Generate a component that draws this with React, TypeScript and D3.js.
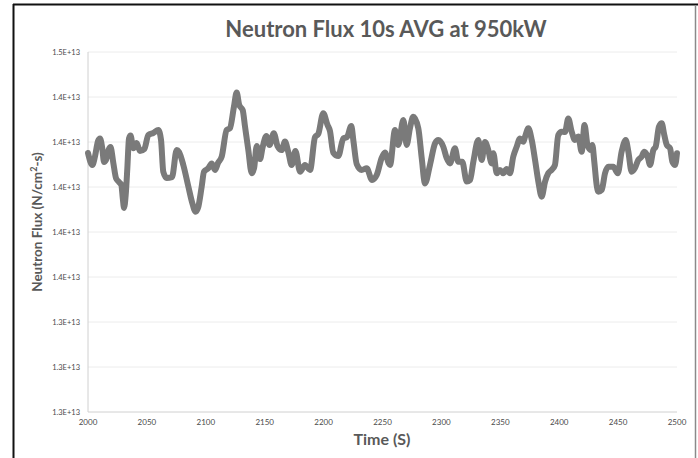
// Neutron flux 10 s average at 950 kW — dense scatter rendered as a thick trace.
import * as d3 from "d3";

// time (s) and flux (×1E13 N/cm²-s)
const times = [
  2000, 2003.7, 2005.9, 2008.5, 2010.2, 2012.1, 2013.6, 2015.3, 2017.4, 2019.1,
  2021.5, 2023.8, 2026.3, 2028.3, 2029.5, 2030.6, 2032, 2033.4, 2034.8, 2036.1,
  2038.5, 2041.3, 2044.1, 2047.8, 2051.2, 2055.4, 2059.7, 2062, 2063.9, 2066.8,
  2071.3, 2075.3, 2077.2, 2080.9, 2085.1, 2088.3, 2091.3, 2093.4, 2096.5, 2098.5,
  2102.1, 2105, 2107.8, 2110.4, 2113.5, 2117.7, 2120.5, 2123.9, 2126.2, 2128.4,
  2131.3, 2133.3, 2136.1, 2139, 2141, 2143.2, 2146, 2148.3, 2151.4, 2154.1,
  2157.7, 2160.9, 2164.4, 2167.2, 2170, 2172.9, 2176.1, 2180, 2184.2, 2188.5,
  2192.7, 2195.5, 2199.7, 2203.3, 2205.4, 2208.2, 2212.5, 2216.7, 2219.9, 2223.5,
  2225.4, 2228.1, 2232.3, 2236.6, 2241.1, 2245.1, 2249.3, 2252.1, 2255.1, 2256.4,
  2260.6, 2263.4, 2267.7, 2270.5, 2273.3, 2276.1, 2280.4, 2283.3, 2286.1, 2290.3,
  2294.6, 2297.4, 2301.6, 2304.5, 2307.3, 2311.5, 2314.3, 2317.7, 2321.5, 2324.3,
  2327.1, 2331.3, 2334.2, 2337, 2339.8, 2342.7, 2344.1, 2347, 2349.7, 2352.5,
  2355.4, 2358.2, 2361, 2363.9, 2366.7, 2369.5, 2371.2, 2373.8, 2376.7, 2379.5,
  2382.3, 2385.1, 2388, 2390.7, 2393.6, 2396.4, 2399.2, 2402.1, 2404.9, 2407.7,
  2410.6, 2413.4, 2416.2, 2419.1, 2421.5, 2424, 2427, 2428.1, 2429.8, 2431.8,
  2433.2, 2436.1, 2438.9, 2441.7, 2445.9, 2449.7, 2453, 2456.5, 2458.7, 2461.5,
  2464.3, 2467.1, 2470, 2472.2, 2475.1, 2477.1, 2479.9, 2481.9, 2484.7, 2487,
  2489.2, 2491.3, 2494.1, 2496.1, 2498.4, 2500,
];
const fluxE13 = [
  1.4151, 1.4098, 1.4135, 1.4204, 1.4216, 1.4172, 1.4111, 1.412, 1.4164, 1.4178,
  1.4107, 1.4039, 1.4022, 1.4009, 1.3951, 1.3907, 1.3964, 1.4084, 1.4216, 1.4229,
  1.4172, 1.4196, 1.416, 1.4169, 1.4231, 1.424, 1.4253, 1.4209, 1.4068, 1.404,
  1.4044, 1.4164, 1.4156, 1.4098, 1.4004, 1.3933, 1.389, 1.3907, 1.4001, 1.4068,
  1.4083, 1.4105, 1.4076, 1.4107, 1.4135, 1.4253, 1.4261, 1.4357, 1.442, 1.4364,
  1.4342, 1.4268, 1.4164, 1.4061, 1.4084, 1.4182, 1.4124, 1.4178, 1.4227, 1.4187,
  1.4239, 1.4182, 1.4164, 1.4202, 1.4156, 1.4098, 1.416, 1.4068, 1.4098, 1.4076,
  1.4222, 1.4236, 1.4328, 1.4276, 1.4249, 1.4153, 1.4138, 1.4216, 1.4222, 1.4271,
  1.4201, 1.4102, 1.4076, 1.4083, 1.4031, 1.4053, 1.4129, 1.4153, 1.4107, 1.4098,
  1.4253, 1.4187, 1.4298, 1.4187, 1.4261, 1.4312, 1.4261, 1.4128, 1.4016, 1.4098,
  1.4194, 1.4209, 1.4179, 1.4128, 1.4105, 1.4172, 1.4112, 1.4112, 1.4024, 1.4031,
  1.4112, 1.4209, 1.412, 1.42, 1.4164, 1.4105, 1.415, 1.4061, 1.4076, 1.4061,
  1.408, 1.4061, 1.4135, 1.4179, 1.4216, 1.4201, 1.4227, 1.4261, 1.4209, 1.412,
  1.4024, 1.3957, 1.4024, 1.4061, 1.4076, 1.4098, 1.4231, 1.4246, 1.4244, 1.4305,
  1.4246, 1.4209, 1.4224, 1.4157, 1.4276, 1.4187, 1.4164, 1.4187, 1.4112, 1.4009,
  1.3979, 1.3987, 1.4061, 1.409, 1.409, 1.4061, 1.4157, 1.4209, 1.4157, 1.4068,
  1.4084, 1.412, 1.4135, 1.4157, 1.4135, 1.4098, 1.4164, 1.4179, 1.4268, 1.4283,
  1.4231, 1.4187, 1.4172, 1.4112, 1.4098, 1.415,
];
const yTicks = [1.3e13, 1.32e13, 1.34e13, 1.36e13, 1.38e13, 1.4e13, 1.42e13, 1.44e13, 1.46e13];
const xTicks = [2000, 2050, 2100, 2150, 2200, 2250, 2300, 2350, 2400, 2450, 2500];

document.body.style.margin = "0";

const W = 698, H = 458;
const M = { left: 88, right: 677, top: 52, bottom: 412 };
const FONT = "Lato, 'Open Sans', sans-serif";
const TXT = "#595959";

export default function App() {
  const x = d3.scaleLinear().domain([2000, 2500]).range([M.left, M.right]);
  const y = d3.scaleLinear().domain([1.3e13, 1.46e13]).range([M.bottom, M.top]);
  const pts = times.map((t, i) => [t, fluxE13[i] * 1e13] as [number, number]);
  const line = d3.line<[number, number]>()
    .x((d) => x(d[0])).y((d) => y(d[1]))
    .curve(d3.curveMonotoneX);
  const fmt = (v: number) => v.toExponential(1).toUpperCase();

  return (
    <svg width={W} height={H} style={{ display: "block", background: "#fff" }}>
      {/* frame */}
      <line x1={13} y1={4.5} x2={W} y2={4.5} stroke="#111" strokeWidth={2} />
      <line x1={13.5} y1={4} x2={13.5} y2={H} stroke="#111" strokeWidth={2} />
      <line x1={695.5} y1={5} x2={695.5} y2={H} stroke="#8a8a8a" strokeWidth={1.5} />

      <text x={386} y={37} textAnchor="middle" fontFamily={FONT} fontSize={22}
            fontWeight={700} fill={TXT}>Neutron Flux 10s AVG at 950kW</text>

      {yTicks.map((v) => (
        <g key={v}>
          <line x1={M.left} x2={M.right} y1={y(v)} y2={y(v)}
                stroke={v === 1.3e13 ? "#d0d0d0" : "#ececec"} strokeWidth={1} />
          <text x={80} y={y(v)} dy="0.35em" textAnchor="end" fontFamily={FONT}
                fontSize={7.5} fill="#4a4a4a">{fmt(v)}</text>
        </g>
      ))}
      <line x1={M.left} x2={M.left} y1={M.top} y2={M.bottom} stroke="#d0d0d0" />

      {xTicks.map((t) => (
        <text key={t} x={x(t)} y={425} textAnchor="middle" fontFamily={FONT}
              fontSize={8} fill="#4a4a4a">{t}</text>
      ))}

      <path d={line(pts) ?? ""} fill="none" stroke="#7a7a7a" strokeWidth={6}
            strokeLinejoin="round" strokeLinecap="round" />

      <text x={382} y={445} textAnchor="middle" fontFamily={FONT} fontSize={16}
            fontWeight={700} fill={TXT}>Time (S)</text>
      <text transform="translate(42, 222) rotate(-90)"
            textAnchor="middle" fontFamily={FONT} fontSize={13.5} fontWeight={700} fill={TXT}>
        Neutron Flux (N/cm<tspan dy={-5} fontSize={9}>2</tspan><tspan dy={5}>-s)</tspan>
      </text>
    </svg>
  );
}
